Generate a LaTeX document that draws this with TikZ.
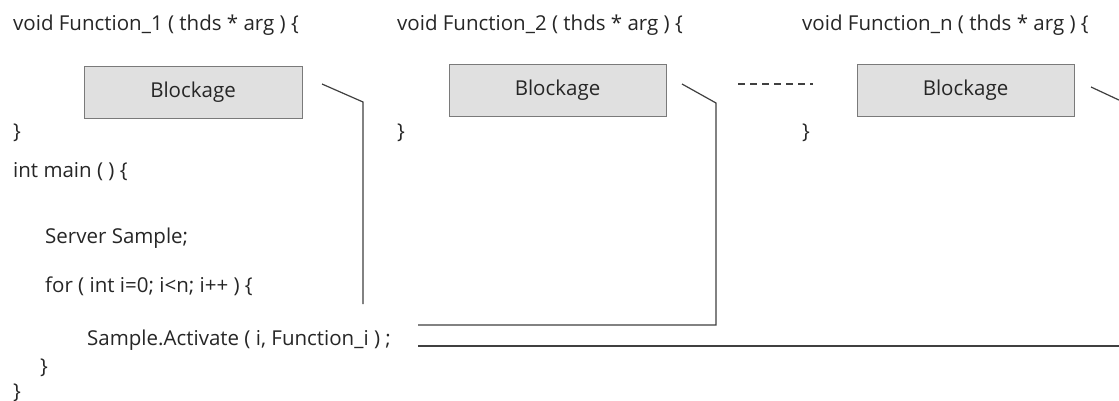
\documentclass[tikz,border=0pt]{standalone}
\usepackage{fontspec}
\setmainfont{Open Sans}
\definecolor{codetext}{HTML}{262626}
\definecolor{wire}{HTML}{404040}
\definecolor{boxfill}{HTML}{E0E0E0}
\definecolor{boxline}{HTML}{7A7A7A}
\begin{document}
\begin{tikzpicture}[x=1pt,y=-1pt,
  code/.style={anchor=base west,inner sep=0pt,text=codetext,font=\fontsize{20.5}{24}\selectfont},
  blockbox/.style={draw=boxline,fill=boxfill,line width=0.9pt,inner sep=0pt,text=codetext,font=\fontsize{20.5}{24}\selectfont},
  wireline/.style={draw=wire,line width=1.2pt},
  dots/.style={draw=wire,line width=2.8pt,dash pattern=on 7pt off 5pt}]
\useasboundingbox[fill=white] (0,0) rectangle (1119,401);

% function headers and closing braces
\node[code] (f1) at (13,31) {void Function\_1 ( thds * arg ) \{};
\node[code] (f2) at (397,31) {void Function\_2 ( thds * arg ) \{};
\node[code] (fn) at (802,31) {void Function\_n ( thds * arg ) \{};
\node[code] (e1) at (13,139) {\}};
\node[code] (e2) at (397,139) {\}};
\node[code] (en) at (802,139) {\}};

% blocking calls inside the thread functions
\node[blockbox,minimum width=218pt,minimum height=52pt] (b1) at (193,92) {Blockage};
\node[blockbox,minimum width=217pt,minimum height=52pt] (b2) at (557.5,90) {Blockage};
\node[blockbox,minimum width=217pt,minimum height=52pt] (bn) at (965.5,90) {Blockage};

% main program
\node[code] (m0) at (13,178) {int main ( ) \{};
\node[code] (m1) at (45,243) {Server Sample;};
\node[code] (m2) at (45,292) {for ( int i=0; i<n; i++ ) \{};
\node[code] (m3) at (87,345) {Sample.Activate ( i, Function\_i ) ;};
\node[code] (m4) at (40,373) {\}};
\node[code] (m5) at (13,398) {\}};

% wiring between the activate call and each function
\coordinate (w1a) at (322,84);
\coordinate (w1b) at (363,102);
\coordinate (w1c) at (363,304);
\draw[wireline] (w1a) -- (w1b) -- (w1c);

\coordinate (w2a) at (682,84);
\coordinate (w2b) at (716,103);
\coordinate (w2c) at (716,325);
\coordinate (w2d) at (418,325);
\draw[wireline] (w2a) -- (w2b) -- (w2c) -- (w2d);

\coordinate (w3a) at (1091,87);
\coordinate (w3b) at (1121,101);
\draw[wireline] (w3a) -- (w3b);
\coordinate (w4a) at (418,346);
\coordinate (w4b) at (1121,346);
\draw[wireline] (w4a) -- (w4b);

% ellipsis between the second and the last function
\coordinate (d1) at (738,84);
\coordinate (d2) at (813,84);
\draw[dots] (d1) -- (d2);
\end{tikzpicture}
\end{document}
